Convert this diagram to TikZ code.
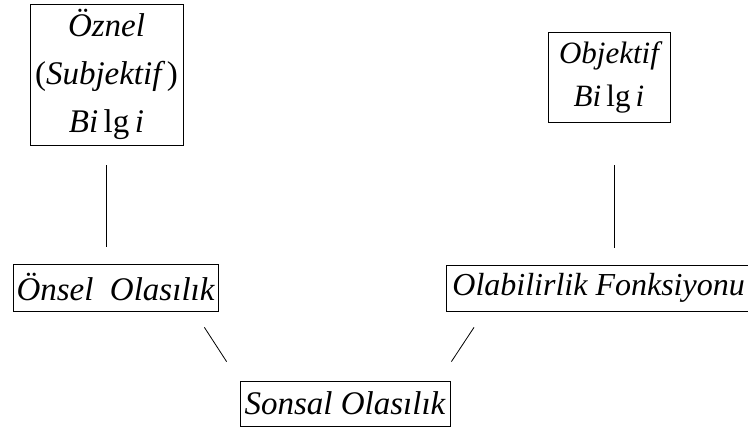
\documentclass[tikz,border=0pt]{standalone}
\usepackage{fontspec}
\setmainfont{Liberation Serif}
\usetikzlibrary{positioning}
\tikzstyle{kutu}=[draw,thick,inner sep=0pt,align=center,font=\fontsize{33}{48}\selectfont\itshape]
\tikzstyle{cizgi}=[thick]
\newcommand{\bilgi}{Bi\,\textup{lg}\,i}

\begin{document}
\begin{tikzpicture}[x=1pt,y=-1pt]
	\useasboundingbox (0,0) rectangle (748,430);
	\node(oznel)[kutu,minimum width=153pt,minimum height=141pt] at (106.5,74.5)
		{\"Oznel\\\textup{(}Subjektif\,\textup{)}\\\bilgi};
	\node(objektif)[kutu,minimum width=122pt,minimum height=90pt,font=\fontsize{31}{43}\selectfont\itshape] at (609,77)
		{Objektif\\\bilgi};
	\node(onsel)[kutu,minimum width=205pt,minimum height=47pt] at (115.5,287.5)
		{\"Onsel\ \ Olas\i l\i k};
	\node(olabilirlik)[kutu,anchor=west,minimum height=46pt,inner xsep=6pt,font=\fontsize{32}{46}\selectfont\itshape] at (446,288)
		{Olabilirlik Fonksiyonu};
	\node(sonsal)[kutu,minimum width=210pt,minimum height=45pt] at (345,403.5)
		{Sonsal Olas\i l\i k};

	\draw[cizgi,shorten <=20pt,shorten >=17pt] (oznel.south) -- (oznel.south |- onsel.north);
	\draw[cizgi,shorten <=43pt,shorten >=17pt] ([xshift=5pt]objektif.south) -- ([xshift=5pt]objektif.south |- olabilirlik.north);
	\draw[cizgi] ([xshift=-14pt,yshift=-16pt]onsel.south east) -- ([xshift=-13pt,yshift=19pt]sonsal.north west);
	\draw[cizgi] ([xshift=28pt,yshift=-16pt]olabilirlik.south west) -- ([xshift=1pt,yshift=19pt]sonsal.north east);
\end{tikzpicture}
\end{document}
